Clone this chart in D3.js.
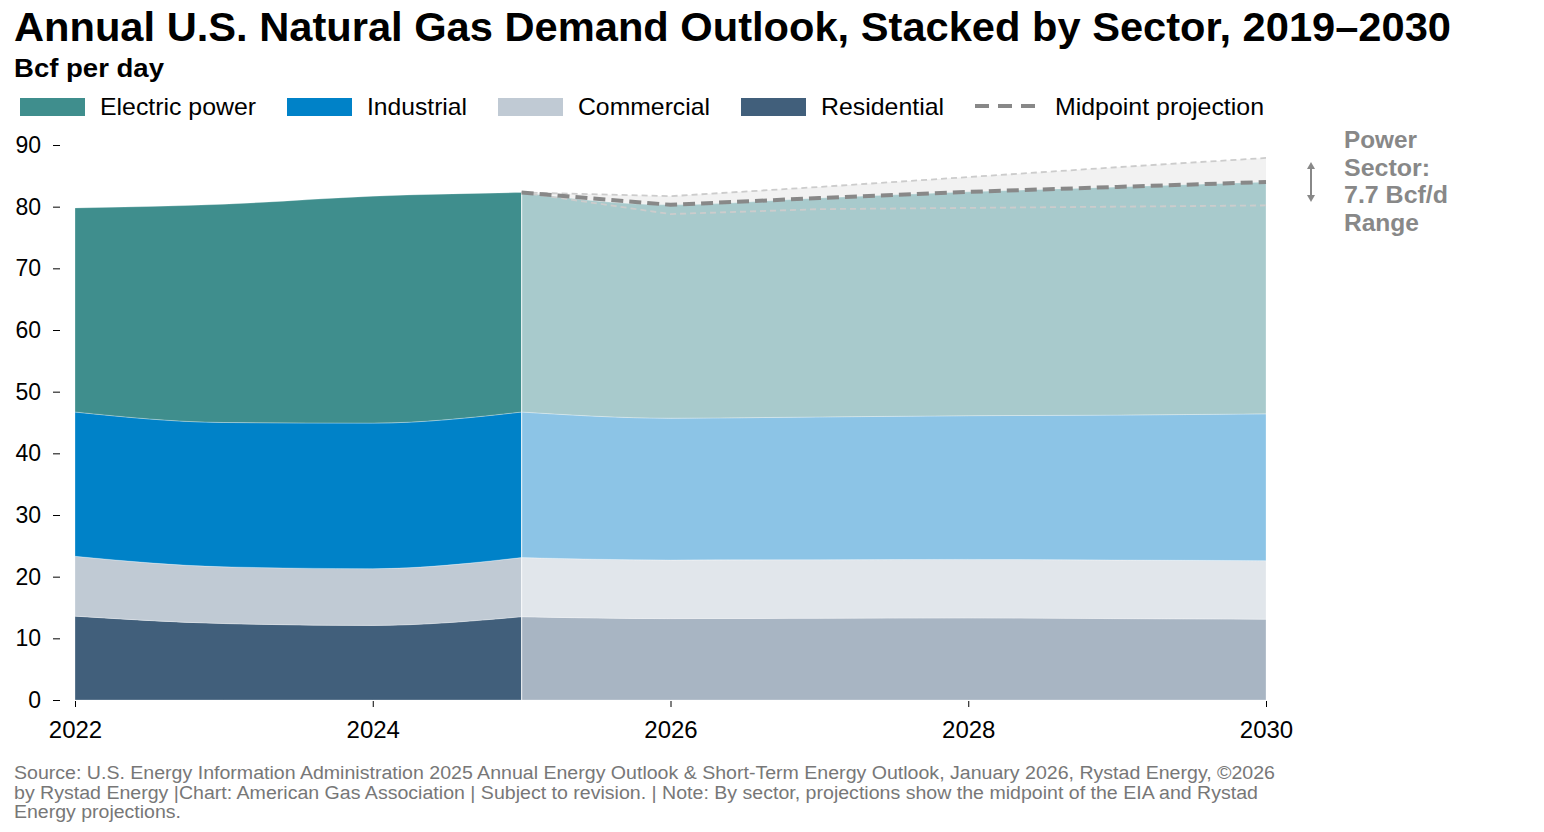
<!DOCTYPE html>
<html><head><meta charset="utf-8">
<script src="https://cdn.jsdelivr.net/npm/d3@7"></script>
<style>
body{margin:0;background:#fff;font-family:"Liberation Sans",Arial,sans-serif;}
svg text{font-family:"Liberation Sans",Arial,sans-serif;}
</style></head>
<body><svg id="c" width="1544" height="832"></svg>
<script>
// ---- Data ----
const histYears = [2022, 2023, 2024, 2025];
const histResidential = [13.6, 12.4, 12.1, 13.5];
const histCommercial  = [9.7, 9.2, 9.2, 9.6];
const histIndustrial  = [23.4, 23.4, 23.6, 23.6];
const histElectric    = [33.1, 35.4, 36.8, 35.6];

const projYears = [2025, 2026, 2027, 2028, 2029, 2030];
const projResidential = [13.5, 13.2, 13.25, 13.3, 13.2, 13.1];
const projCommercial  = [9.6, 9.5, 9.5, 9.5, 9.5, 9.5];
const projIndustrial  = [23.6, 23.0, 23.15, 23.3, 23.5, 23.8];
const projElectric    = [35.6, 34.6, 35.5, 36.3, 37.0, 37.6];

const upperTotal = [82.3, 81.7, 83.2, 84.8, 86.4, 87.9];
const lowerTotal = [82.3, 78.8, 79.6, 79.8, 80.0, 80.2];
const midTotal   = [82.3, 80.3, 81.4, 82.4, 83.2, 84.0];

const sectorNames = ["Electric power", "Industrial", "Commercial", "Residential"];
const yTicks = [0, 10, 20, 30, 40, 50, 60, 70, 80, 90];
const xTicks = [2022, 2024, 2026, 2028, 2030];

// ---- Styles ----
const keys = ["Residential", "Commercial", "Industrial", "Electric power"];
const histColor = {"Electric power":"#3f8e8d","Industrial":"#0082c8","Commercial":"#c0cad4","Residential":"#415f7b"};
const projColor = {"Electric power":"#a8cacc","Industrial":"#8cc4e6","Commercial":"#e1e6eb","Residential":"#a8b5c3"};

const svg = d3.select("#c");
const x = d3.scaleLinear().domain([2022, 2030]).range([75, 1266]);
const y = d3.scaleLinear().domain([0, 90]).range([700, 145]);

function rows(years, r, c, i, e){
  return years.map((yr, k) => ({year: yr, "Residential": r[k], "Commercial": c[k], "Industrial": i[k], "Electric power": e[k]}));
}
const stack = d3.stack().keys(keys);
const histStack = stack(rows(histYears, histResidential, histCommercial, histIndustrial, histElectric));
const projStack = stack(rows(projYears, projResidential, projCommercial, projIndustrial, projElectric));

const area = d3.area().x(d => x(d.data.year)).y0(d => y(d[0])).y1(d => y(d[1])).curve(d3.curveMonotoneX);

// range band
const band = projYears.map((yr, k) => ({year: yr, lo: lowerTotal[k], hi: upperTotal[k]}));
svg.append("path").datum(band)
  .attr("d", d3.area().x(d => x(d.year)).y0(d => y(d.lo)).y1(d => y(d.hi)))
  .attr("fill", "#f2f2f2");

svg.append("g").selectAll("path").data(histStack).join("path")
  .attr("d", area).attr("fill", d => histColor[d.key])
  .attr("stroke", "rgba(255,255,255,0.35)").attr("stroke-width", 0.8);
svg.append("g").selectAll("path").data(projStack).join("path")
  .attr("d", area).attr("fill", d => projColor[d.key])
  .attr("stroke", "rgba(255,255,255,0.35)").attr("stroke-width", 0.8);

// boundary line at 2025
svg.append("line").attr("x1", x(2025)).attr("x2", x(2025))
  .attr("y1", y(0)).attr("y2", y(histStack[3][3][1]))
  .attr("stroke", "#ffffff").attr("stroke-opacity", 0.6).attr("stroke-width", 1.2);

const line = d3.line().x((d, k) => x(projYears[k])).y(d => y(d));
svg.append("path").datum(upperTotal).attr("d", line).attr("fill", "none")
  .attr("stroke", "#cccccc").attr("stroke-width", 1.8).attr("stroke-dasharray", "6,4");
svg.append("path").datum(lowerTotal).attr("d", line).attr("fill", "none")
  .attr("stroke", "#cccccc").attr("stroke-width", 1.8).attr("stroke-dasharray", "6,4");
svg.append("path").datum(midTotal).attr("d", line).attr("fill", "none")
  .attr("stroke", "#888888").attr("stroke-width", 4).attr("stroke-dasharray", "12,6");

// axes
const yAxis = d3.axisLeft(y).tickValues(yTicks).tickSize(7).tickPadding(12).tickFormat(d3.format("d"));
const gy = svg.append("g").attr("transform", "translate(60,0)").call(yAxis);
gy.select(".domain").remove();
gy.selectAll("text").attr("font-size", 23).attr("fill", "#000");
gy.selectAll("line").attr("stroke", "#000").attr("stroke-width", 1);

const xAxis = d3.axisBottom(x).tickValues(xTicks).tickSize(6).tickPadding(14).tickFormat(d3.format("d"));
const gx = svg.append("g").attr("transform", "translate(0,701)").call(xAxis);
gx.select(".domain").remove();
gx.selectAll("text").attr("font-size", 24).attr("fill", "#000");
gx.selectAll("line").attr("stroke", "#000").attr("stroke-width", 1);

function fit(sel, len){ return sel.attr("textLength", len).attr("lengthAdjust", "spacingAndGlyphs"); }

// titles
fit(svg.append("text").attr("x", 14).attr("y", 41).attr("font-size", 40).attr("font-weight", "bold")
  .text("Annual U.S. Natural Gas Demand Outlook, Stacked by Sector, 2019–2030"), 1437);
fit(svg.append("text").attr("x", 14).attr("y", 77).attr("font-size", 25).attr("font-weight", "bold")
  .text("Bcf per day"), 150);

// legend
const legendItems = [
  {name: sectorNames[0], x: 20, w: 156}, {name: sectorNames[1], x: 287, w: 100},
  {name: sectorNames[2], x: 498, w: 132}, {name: sectorNames[3], x: 741, w: 123}
];
const lg = svg.append("g");
legendItems.forEach(it => {
  lg.append("rect").attr("x", it.x).attr("y", 98).attr("width", 65).attr("height", 18).attr("fill", histColor[it.name]);
  fit(lg.append("text").attr("x", it.x + 80).attr("y", 115).attr("font-size", 24).text(it.name), it.w);
});
lg.append("line").attr("x1", 975).attr("x2", 1035).attr("y1", 106).attr("y2", 106)
  .attr("stroke", "#888").attr("stroke-width", 4).attr("stroke-dasharray", "14,9");
fit(lg.append("text").attr("x", 1055).attr("y", 115).attr("font-size", 24).text("Midpoint projection"), 209);

// annotation
const ann = ["Power", "Sector:", "7.7 Bcf/d", "Range"];
const annW = [73, 86, 104, 75];
ann.forEach((t, k) => {
  fit(svg.append("text").attr("x", 1344).attr("y", 148 + k * 27.7).attr("font-size", 24)
    .attr("font-weight", "bold").attr("fill", "#888888").text(t), annW[k]);
});
svg.append("line").attr("x1", 1311).attr("x2", 1311).attr("y1", 166).attr("y2", 198)
  .attr("stroke", "#888").attr("stroke-width", 2);
svg.append("path").attr("d", "M1307,169 L1311,162 L1315,169 Z").attr("fill", "#888");
svg.append("path").attr("d", "M1307,195 L1311,202 L1315,195 Z").attr("fill", "#888");

// source
const src = [
  "Source: U.S. Energy Information Administration 2025 Annual Energy Outlook & Short-Term Energy Outlook, January 2026, Rystad Energy, ©2026",
  "by Rystad Energy |Chart: American Gas Association | Subject to revision. | Note: By sector, projections show the midpoint of the EIA and Rystad",
  "Energy projections."
];
const srcW = [1261, 1244, 167];
src.forEach((t, k) => {
  fit(svg.append("text").attr("x", 14).attr("y", 779 + k * 19.5).attr("font-size", 18).attr("fill", "#777").text(t), srcW[k]);
});
</script></body></html>
